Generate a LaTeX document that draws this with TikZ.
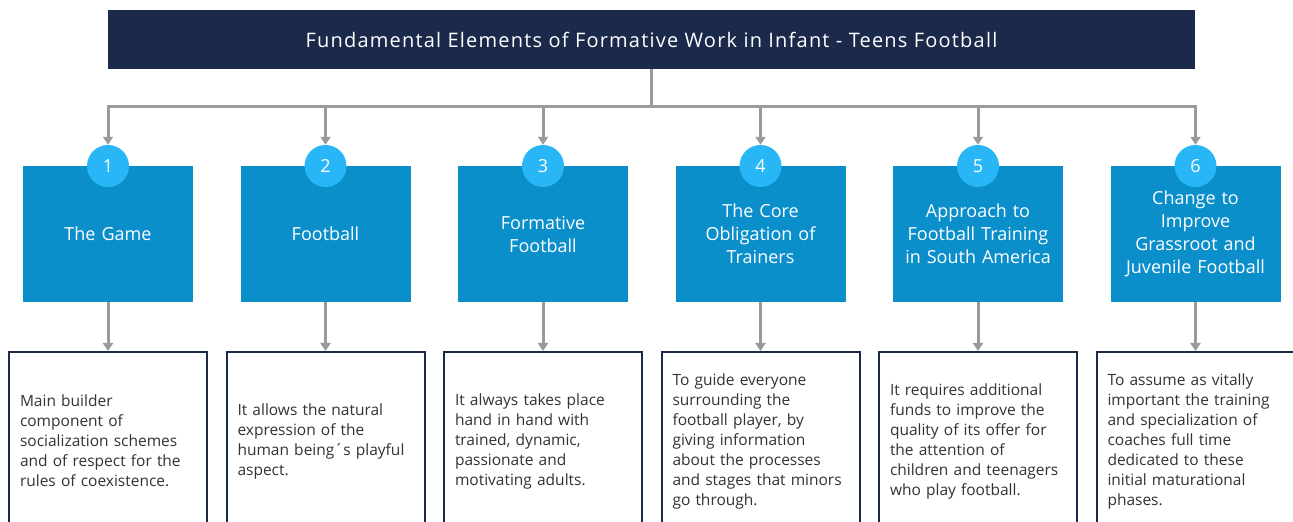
\documentclass[tikz,border=0pt]{standalone}
\usepackage{fontspec}
\setmainfont{Open Sans}
\usetikzlibrary{arrows.meta}
\definecolor{titlenavy}{HTML}{1B2A4A}
\definecolor{boxblue}{HTML}{0A8FCB}
\definecolor{circblue}{HTML}{29B6F6}
\definecolor{linegray}{HTML}{9A9A9A}
\definecolor{textgray}{HTML}{333333}

\begin{document}
\begin{tikzpicture}[x=1pt,y=1pt,
  head/.style={fill=boxblue,minimum width=170pt,minimum height=136pt,text width=160pt,align=center,inner sep=0pt,text=white,font=\fontsize{18}{23}\selectfont},
  num/.style={circle,fill=circblue,minimum size=42pt,inner sep=0pt,text=white,font=\fontsize{18}{18}\selectfont},
  desc/.style={draw=titlenavy,line width=2pt,fill=white,text width=176pt,inner xsep=11pt,minimum height=178pt,align=left,text=textgray,font=\fontsize{15.5}{20}\selectfont},
  conn/.style={linegray,line width=3pt},
  arr/.style={conn,-{Triangle[width=10pt,length=8pt]}}]
            \fill[white] (0,0) rectangle (1293,522);
            \useasboundingbox (0,0) rectangle (1293,522);
            \node[fill=titlenavy,minimum width=1087pt,minimum height=59pt,text=white,font=\fontsize{20}{20}\selectfont\addfontfeature{LetterSpace=6}] (title) at (651.5,482.5) {Fundamental Elements of Formative Work in Infant - Teens Football};
            \coordinate (bus1) at (108,415);
            \coordinate (bus2) at (325.5,415);
            \coordinate (bus3) at (543,415);
            \coordinate (bus4) at (760.5,415);
            \coordinate (bus5) at (978,415);
            \coordinate (bus6) at (1195.5,415);
            \node[head] (b1) at (108,288) {The Game};
            \node[head] (b2) at (325.5,288) {Football};
            \node[head] (b3) at (543,288) {Formative\\Football};
            \node[head] (b4) at (760.5,288) {The Core\\Obligation of\\Trainers};
            \node[head] (b5) at (978,288) {Approach to\\Football Training\\in South America};
            \node[head] (b6) at (1195.5,288) {Change to\\Improve\\Grassroot and\\Juvenile Football};
            \node[num] (c1) at (108,356) {1};
            \node[num] (c2) at (325.5,356) {2};
            \node[num] (c3) at (543,356) {3};
            \node[num] (c4) at (760.5,356) {4};
            \node[num] (c5) at (978,356) {5};
            \node[num] (c6) at (1195.5,356) {6};
            \node[desc] (d1) at (108,81) {Main builder\\component of\\socialization schemes\\and of respect for the\\rules of coexistence.};
            \node[desc] (d2) at (325.5,81) {It allows the natural\\expression of the\\human being´s playful\\aspect.};
            \node[desc] (d3) at (543,81) {It always takes place\\hand in hand with\\trained, dynamic,\\passionate and\\motivating adults.};
            \node[desc] (d4) at (760.5,81) {To guide everyone\\surrounding the\\football player, by\\giving information\\about the processes\\and stages that minors\\go through.};
            \node[desc] (d5) at (978,81) {It requires additional\\funds to improve the\\quality of its offer for\\the attention of\\children and teenagers\\who play football.};
            \node[desc] (d6) at (1195.5,81) {To assume as vitally\\important the training\\and specialization of\\coaches full time\\dedicated to these\\initial maturational\\phases.};
            \draw[conn] (title.south) -- (title.south |- bus1);
            \draw[conn,line cap=rect] (bus1) -- (bus6);
            \draw[arr] (bus1) -- (c1.north);
            \draw[arr] (bus2) -- (c2.north);
            \draw[arr] (bus3) -- (c3.north);
            \draw[arr] (bus4) -- (c4.north);
            \draw[arr] (bus5) -- (c5.north);
            \draw[arr] (bus6) -- (c6.north);
            \draw[arr] (b1.south) -- (d1.north);
            \draw[arr] (b2.south) -- (d2.north);
            \draw[arr] (b3.south) -- (d3.north);
            \draw[arr] (b4.south) -- (d4.north);
            \draw[arr] (b5.south) -- (d5.north);
            \draw[arr] (b6.south) -- (d6.north);
\end{tikzpicture}
\end{document}
